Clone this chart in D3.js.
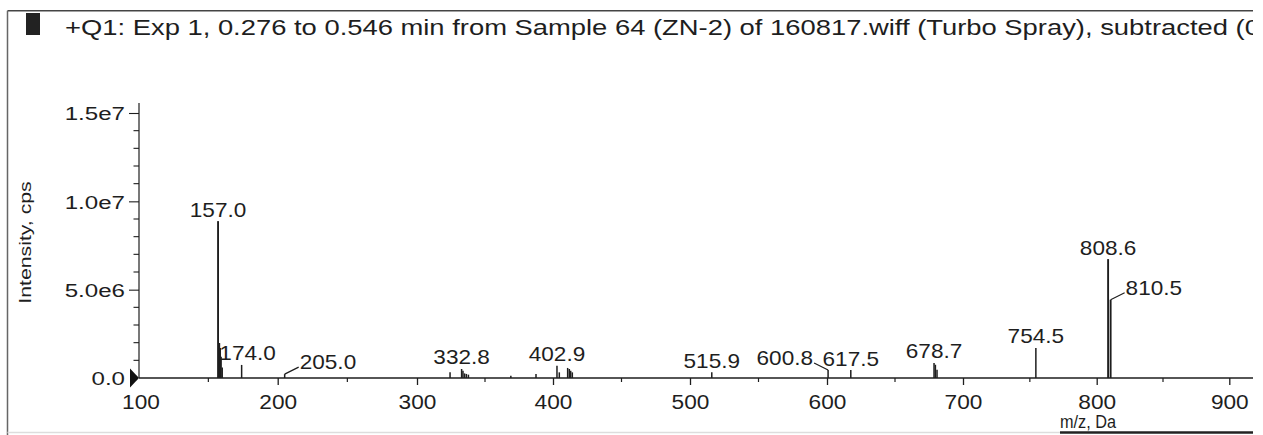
<!DOCTYPE html>
<html>
<head>
<meta charset="utf-8">
<script src="https://cdn.jsdelivr.net/npm/d3@7"></script>
<style>
  html, body { margin: 0; padding: 0; background: #fff; }
  svg { display: block; font-family: "Liberation Sans", Arial, sans-serif; }
</style>
</head>
<body>
<div id="chart"></div>
<script>
// spectrum values
const titleText = "+Q1: Exp 1, 0.276 to 0.546 min from Sample 64 (ZN-2) of 160817.wiff (Turbo Spray), subtracted (0";
const xTitle = "m/z, Da";
const yTitle = "Intensity, cps";

const peakMz = [157.0, 158.0, 158.6, 159.2, 160.0, 174.0, 205.0,
  324.3, 332.8, 333.8, 335.0, 336.3, 337.8, 369.0, 387.5,
  402.9, 404.6, 410.7, 411.9, 412.9, 414.1, 515.9, 600.8, 617.5,
  678.7, 679.7, 680.9, 754.5, 808.6, 810.5];
const peakIntensity = [8.88e6, 1.98e6, 1.7e6, 1.2e6, 0.6e6, 0.74e6, 0.22e6,
  0.32e6, 0.51e6, 0.41e6, 0.26e6, 0.23e6, 0.19e6, 0.13e6, 0.23e6,
  0.7e6, 0.32e6, 0.57e6, 0.51e6, 0.41e6, 0.32e6, 0.32e6, 0.45e6, 0.45e6,
  0.85e6, 0.75e6, 0.47e6, 1.7e6, 6.73e6, 4.43e6];
const labelMz = [157.0, 174.0, 205.0, 332.8, 402.9, 515.9, 600.8, 617.5, 678.7, 754.5, 808.6, 810.5];

const xTickValues = [100, 200, 300, 400, 500, 600, 700, 800, 900];
const xMinorTicks = [150, 250, 350, 450, 550, 650, 750, 850];
const yTickValues = [0, 5e6, 1e7, 1.5e7];
const yTickLabels = ["0.0", "5.0e6", "1.0e7", "1.5e7"];
const yMinorTicks = [1e6, 2e6, 3e6, 4e6, 6e6, 7e6, 8e6, 9e6, 11e6, 12e6, 13e6, 14e6];

// how some labels sit off their peak (leader lines)
const labelPlace = {
  "174.0": { dx: 6 },
  "205.0": { side: "right" },
  "600.8": { side: "left" },
  "810.5": { side: "right" }
};

const width = 1263, height = 435;
const ink = "#1e1e1e";
const xMax = 918, yMax = 1.556e7;

const svg = d3.select("#chart").append("svg")
  .attr("width", width).attr("height", height);

svg.append("defs").append("clipPath").attr("id", "page")
  .append("rect").attr("x", 0).attr("y", 0).attr("width", 1253).attr("height", height);

const g = svg.append("g").attr("clip-path", "url(#page)");

// the printed axis is a bit uneven, so the scale follows the printed ticks
const x = d3.scaleLinear()
  .domain(xTickValues)
  .range([139, 277.7, 417, 553, 690, 827, 963, 1096.7, 1229.3]);
const y = d3.scaleLinear().domain([0, 1.5e7]).range([378, 113]);

// text helper: scanned print is wider than the font
const stretch = (sel, px, py, sx, rot) =>
  sel.attr("transform", `translate(${px},${py})` + (rot ? ` rotate(${rot})` : "") + ` scale(${sx},1)`);

// frame
g.append("line").attr("x1", 7.5).attr("x2", 1253).attr("y1", 10.7).attr("y2", 10.7)
  .attr("stroke", "#444").attr("stroke-width", 1.5);
g.append("line").attr("x1", 7.5).attr("x2", 7.5).attr("y1", 10.7).attr("y2", height)
  .attr("stroke", "#666").attr("stroke-width", 1.5);
g.append("line").attr("x1", 7.5).attr("x2", 1060).attr("y1", 432.5).attr("y2", 432.5)
  .attr("stroke", "#ddd").attr("stroke-width", 1.5);
g.append("line").attr("x1", 1060).attr("x2", 1253).attr("y1", 432.5).attr("y2", 432.5)
  .attr("stroke", "#222").attr("stroke-width", 2.5);

// title and its icon
g.append("rect").attr("x", 26).attr("y", 13).attr("width", 14).attr("height", 22).attr("fill", "#222");
stretch(g.append("text"), 65, 34.5, 1.217)
  .attr("font-size", 22.5).attr("fill", ink).text(titleText);

// x axis
const xAxis = d3.axisBottom(x).tickValues(xTickValues.slice(1)).tickSize(7).tickSizeOuter(0)
  .tickPadding(0).tickFormat(d3.format("d"));
const gx = g.append("g").attr("transform", `translate(0,${y(0)})`).call(xAxis);
gx.select(".domain").remove();
gx.selectAll("line").attr("stroke", ink).attr("stroke-width", 1.3);
gx.selectAll("text").remove();
gx.selectAll(".tick").each(function (d) {
  stretch(d3.select(this).append("text"), 0, 30.5, 1.08)
    .attr("text-anchor", "middle").attr("font-size", 21).attr("fill", ink).text(d);
});
// the 100 label sits at the axis corner
stretch(g.append("text"), x(100) + 2, y(0) + 30.5, 1.08)
  .attr("text-anchor", "middle").attr("font-size", 21).attr("fill", ink).text(xTickValues[0]);

g.selectAll(".xminor").data(xMinorTicks).join("line").attr("class", "xminor")
  .attr("x1", d => x(d)).attr("x2", d => x(d))
  .attr("y1", y(0)).attr("y2", y(0) + 4)
  .attr("stroke", ink).attr("stroke-width", 1.2);

g.append("line").attr("x1", x(100)).attr("x2", x(xMax)).attr("y1", y(0)).attr("y2", y(0))
  .attr("stroke", ink).attr("stroke-width", 1.6);

stretch(g.append("text"), 1088, 428.3, 0.88)
  .attr("text-anchor", "middle").attr("font-size", 18.5).attr("fill", ink).text(xTitle);

// y axis
const yAxis = d3.axisLeft(y).tickValues(yTickValues.slice(1)).tickSize(10).tickSizeOuter(0)
  .tickFormat((d, i) => yTickLabels[i + 1]);
const gy = g.append("g").attr("transform", `translate(${x(100)},0)`).call(yAxis);
gy.select(".domain").remove();
gy.selectAll("line").attr("stroke", ink).attr("stroke-width", 1.1);
gy.selectAll("text").remove();
gy.selectAll(".tick").each(function (d, i) {
  stretch(d3.select(this).append("text"), -14, 6.8, 1.27)
    .attr("text-anchor", "end").attr("font-size", 19).attr("fill", ink).text(yTickLabels[i + 1]);
});
stretch(g.append("text"), x(100) - 14, y(0) + 6.8, 1.27)
  .attr("text-anchor", "end").attr("font-size", 19).attr("fill", ink).text(yTickLabels[0]);

g.selectAll(".yminor").data(yMinorTicks).join("line").attr("class", "yminor")
  .attr("x1", x(100) - 5.5).attr("x2", x(100))
  .attr("y1", d => y(d)).attr("y2", d => y(d))
  .attr("stroke", ink).attr("stroke-width", 1.1);

g.append("line").attr("x1", x(100)).attr("x2", x(100)).attr("y1", y(0)).attr("y2", y(yMax))
  .attr("stroke", ink).attr("stroke-width", 1.2);

// zero marker
g.append("path")
  .attr("d", `M${x(100)},${y(0)} L${x(100) - 9},${y(0) - 9.5} L${x(100) - 9},${y(0) + 9.5} Z`)
  .attr("fill", "#111");

stretch(g.append("text"), 30.5, 242.5, 1.25, -90)
  .attr("text-anchor", "middle").attr("font-size", 17).attr("fill", ink).text(yTitle);

// peaks
const peaks = peakMz.map((m, i) => ({ mz: m, value: peakIntensity[i] }));
g.selectAll(".peak").data(peaks).join("line").attr("class", "peak")
  .attr("x1", d => x(d.mz)).attr("x2", d => x(d.mz))
  .attr("y1", y(0)).attr("y2", d => y(d.value))
  .attr("stroke", ink).attr("stroke-width", d => d.value > 4e6 ? 1.9 : 1.5);

// peak labels
labelMz.forEach(m => {
  const p = peaks.find(d => d.mz === m);
  const txt = m.toFixed(1);
  const place = labelPlace[txt] || {};
  const px = x(m), py = y(p.value);
  if (place.side) {
    const dir = place.side === "right" ? 1 : -1;
    g.append("line")
      .attr("x1", px).attr("y1", py)
      .attr("x2", px + dir * 14).attr("y2", py - 7)
      .attr("stroke", ink).attr("stroke-width", 1.2);
    stretch(g.append("text"), px + dir * 15, py - 5, 1.13)
      .attr("text-anchor", dir > 0 ? "start" : "end")
      .attr("font-size", 20).attr("fill", ink).text(txt);
  } else {
    stretch(g.append("text"), px + (place.dx || 0), py - 4.5, 1.13)
      .attr("text-anchor", "middle").attr("font-size", 20).attr("fill", ink).text(txt);
  }
});
</script>
</body>
</html>
